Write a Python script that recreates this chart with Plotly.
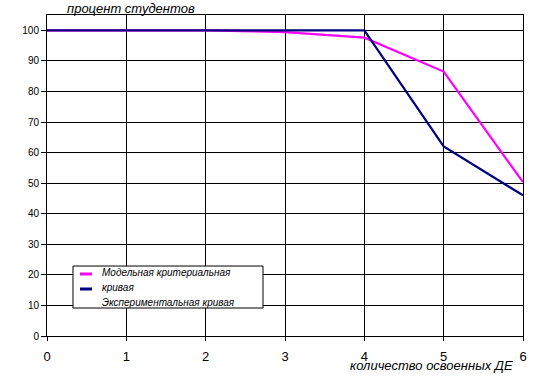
import plotly.graph_objects as go

x_vals = [0, 1, 2, 3, 4, 5, 6]
model_curve = [100, 100, 100, 99.4, 97.6, 86.5, 50.3]
experiment_curve = [100, 100, 100, 100, 100, 62, 46]
y_ticks = [0, 10, 20, 30, 40, 50, 60, 70, 80, 90, 100]

MAGENTA = "#FF00FF"
NAVY = "#000080"
FONT = "Liberation Sans, Arial, sans-serif"

fig = go.Figure()
fig.add_trace(go.Scatter(x=x_vals, y=model_curve, mode="lines",
                         line=dict(color=MAGENTA, width=2.2), name="Модельная критериальная кривая"))
fig.add_trace(go.Scatter(x=x_vals, y=experiment_curve, mode="lines",
                         line=dict(color=NAVY, width=2.2), name="Экспериментальная кривая"))

fig.update_layout(
    width=560, height=388,
    margin=dict(l=47, r=37, t=15, b=52),
    paper_bgcolor="white", plot_bgcolor="white",
    showlegend=False,
    font=dict(family=FONT, color="black"),
    xaxis=dict(range=[0, 6], tickvals=x_vals, showgrid=True, gridcolor="black", gridwidth=1,
               showline=True, linecolor="black", linewidth=1, mirror=True,
               ticks="outside", ticklen=4, tickcolor="black", tickfont=dict(size=13, family=FONT),
               ticklabelstandoff=4, zeroline=False),
    yaxis=dict(range=[0, 105], tickvals=y_ticks, showgrid=True, gridcolor="black", gridwidth=1,
               showline=True, linecolor="black", linewidth=1, mirror=True,
               ticks="outside", ticklen=5, tickcolor="black", tickfont=dict(size=10, family=FONT),
               zeroline=False),
)

# axis titles
fig.add_annotation(text="<i>процент студентов</i>", xref="paper", yref="paper", x=0.038, y=1.02,
                   xanchor="left", yanchor="middle", showarrow=False,
                   font=dict(size=13, family=FONT, color="black"))
fig.add_annotation(text="<i>количество освоенных ДЕ</i>", xref="paper", yref="paper", x=0.983, y=-0.093,
                   xanchor="right", yanchor="middle", showarrow=False,
                   font=dict(size=13, family=FONT, color="black"))

# custom legend box
fig.add_shape(type="rect", xref="paper", yref="paper", x0=0.0546, x1=0.4538, y0=0.0872, y1=0.218,
              line=dict(color="black", width=1), fillcolor="white", layer="above")
fig.add_shape(type="line", xref="paper", yref="paper",
              x0=(80-47)/476, x1=(92-47)/476, y0=(336-274)/321, y1=(336-274)/321,
              line=dict(color=MAGENTA, width=3), layer="above")
fig.add_shape(type="line", xref="paper", yref="paper",
              x0=(80-47)/476, x1=(92-47)/476, y0=(336-289)/321, y1=(336-289)/321,
              line=dict(color=NAVY, width=3), layer="above")
legend_lines = ["Модельная критериальная", "кривая", "Экспериментальная кривая"]
for i, t in enumerate(legend_lines):
    ypix = 272 + i * 15
    fig.add_annotation(text="<i>" + t + "</i>", xref="paper", yref="paper",
                       x=(100-47)/476, y=(336-ypix)/321, xanchor="left", yanchor="middle",
                       showarrow=False, font=dict(size=10, family=FONT, color="black"))

fig.write_html("out.html", config={"displayModeBar": False},
               post_script="document.body.style.margin='0';")
